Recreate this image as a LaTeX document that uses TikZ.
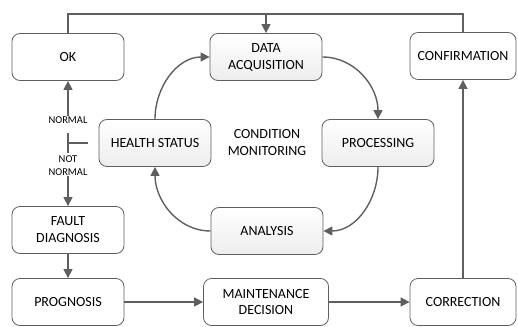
\documentclass[tikz,border=0pt]{standalone}
\usepackage{fontspec}
\setmainfont{Carlito}
\usetikzlibrary{arrows.meta,positioning}
\definecolor{linegray}{RGB}{95,95,95}
\begin{document}
\begin{tikzpicture}[x=1pt, y=-1pt,
    box/.style={draw=linegray, line width=0.8pt, rounded corners=8pt, minimum width=112pt,
        minimum height=47pt, align=center, font=\fontsize{14}{17}\selectfont},
    loopbox/.style={box, top color=white, bottom color=gray!14},
    conn/.style={draw=linegray, line width=1.4pt},
    arr/.style={conn, -{Triangle[length=9pt,width=9pt]}},
    tag/.style={font=\fontsize{10.5}{13}\selectfont, align=center, inner sep=0pt}]
    \useasboundingbox (0,0) rectangle (518,326);
    % outer boxes
    \node[box] (ok) at (68,57) {OK};
    \node[box, minimum width=106pt] (conf) at (463,56) {CONFIRMATION};
    \node[box] (fault) at (68,230) {FAULT\\DIAGNOSIS};
    \node[box] (prog) at (68,302) {PROGNOSIS};
    \node[box, minimum width=125pt] (maint) at (266,302) {MAINTENANCE\\DECISION};
    \node[box, minimum width=106pt] (corr) at (463,302) {CORRECTION};
    % condition monitoring loop
    \node[loopbox] (acq) at (266,57) {DATA\\ACQUISITION};
    \node[loopbox] (health) at (155,143) {HEALTH STATUS};
    \node[loopbox] (proc) at (378,143) {PROCESSING};
    \node[loopbox] (anal) at (267,231) {ANALYSIS};
    \node[align=center, font=\fontsize{14}{17}\selectfont] (cm) at (267,143) {CONDITION\\MONITORING};
    \draw[arr] (health.north) to[out=90,in=180] (acq.west);
    \draw[arr] (acq.east) to[out=0,in=90] (proc.north);
    \draw[arr] (proc.south) to[out=270,in=0] (anal.east);
    \draw[arr] (anal.west) to[out=180,in=270] (health.south);
    % health status decision
    \node[tag] (normal) at (68,120) {NORMAL};
    \node[tag] (notnormal) at (68,166) {NOT\\NORMAL};
    \coordinate (jtop) at (68,133);
    \coordinate (jbot) at (68,153);
    \coordinate (junc) at (68,143);
    \coordinate (stub) at (88,143);
    \draw[conn] (jtop) -- (jbot);
    \draw[conn] (junc) -- (stub);
    \draw[arr] (normal.north) -- (ok.south);
    \draw[arr] (notnormal.south) -- (fault.north);
    % maintenance chain
    \draw[arr] (fault.south) -- (prog.north);
    \draw[arr] (prog.east) -- (maint.west);
    \draw[arr] (maint.east) -- (corr.west);
    \draw[arr] (corr.north) -- (conf.south);
    % feedback to data acquisition
    \draw[conn] (ok.north) -- (ok.north |- 0,14) -| (conf.north);
    \draw[arr] (acq.north |- 0,14) -- (acq.north);
\end{tikzpicture}
\end{document}
